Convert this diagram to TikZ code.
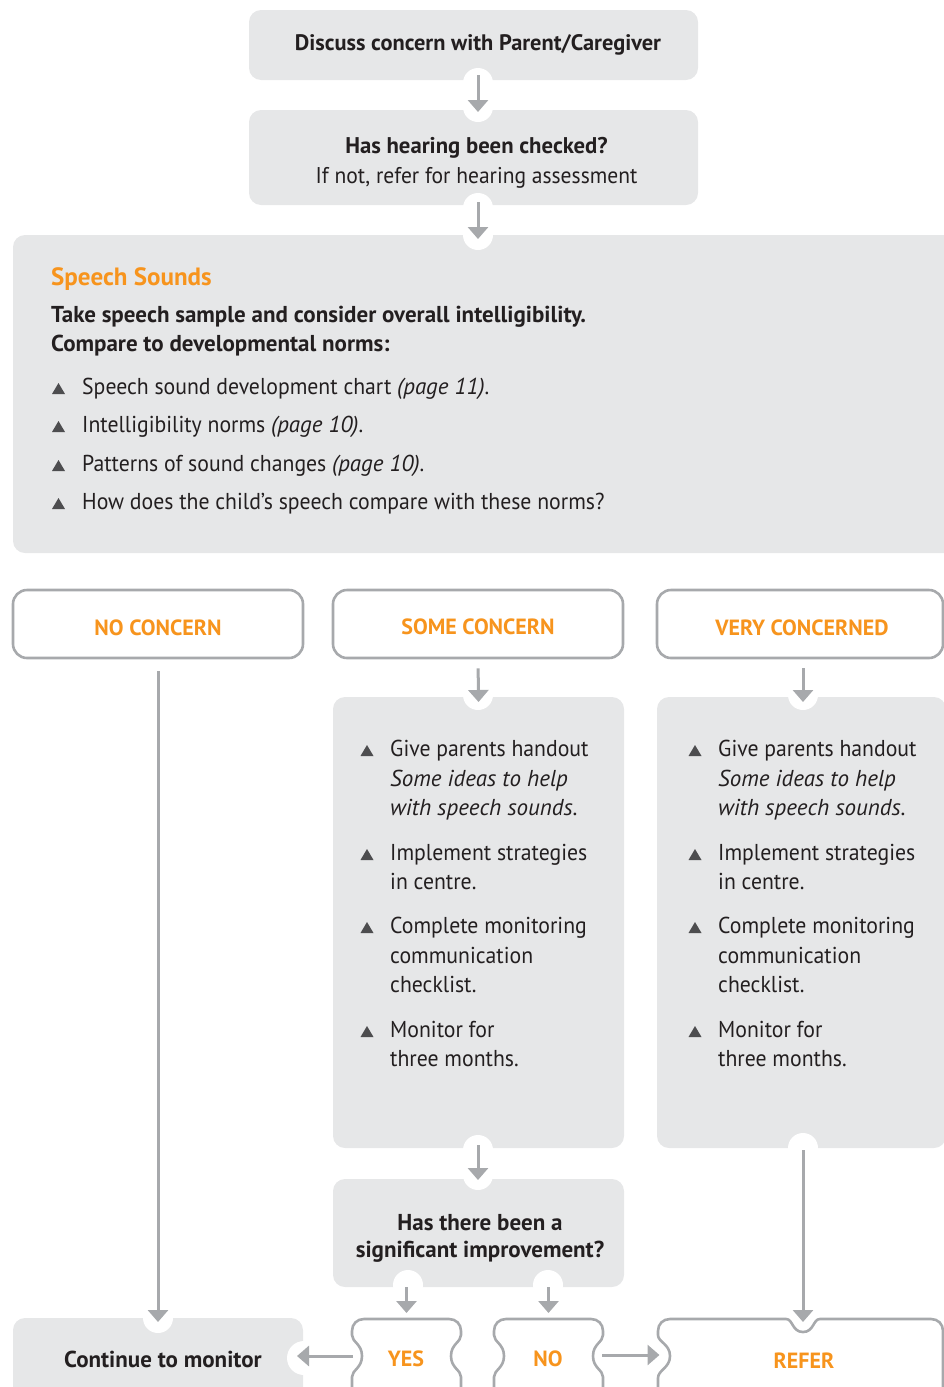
\documentclass[tikz,border=0pt]{standalone}
\usepackage{fontspec}
\setmainfont{PT Sans}[UprightFeatures={FakeStretch=0.945}]
\usetikzlibrary{arrows.meta}
\definecolor{boxgray}{HTML}{E6E7E8}
\definecolor{linegray}{HTML}{A7A9AC}
\definecolor{orng}{HTML}{F7941D}
\definecolor{txt}{HTML}{231F20}
\definecolor{bulc}{HTML}{4D4D4F}
\newcommand\bultri[2]{\fill[bulc] ({#1-6.5},{#2}) -- ({#1+6.5},{#2}) -- ({#1},{#2-11}) -- cycle;}
\newcommand\bline[4]{\node[tx, anchor=base west] (#1) at (#2,#3) {#4};}
\begin{document}
\begin{tikzpicture}[x=1pt,y=-1pt,
  graybox/.style={fill=boxgray, rounded corners=12pt},
  outbox/.style={draw=linegray, line width=2.6pt, rounded corners=14pt, fill=white},
  conn/.style={draw=linegray, line width=3pt, -{Triangle[width=20pt,length=12pt]}},
  notch/.style={fill=white},
  tx/.style={text=txt, inner sep=0pt, font=\fontsize{23}{29}\selectfont},
  bx/.style={text=txt, inner sep=0pt, font=\fontsize{23}{29}\selectfont\bfseries},
  ox/.style={text=orng, inner sep=0pt, font=\fontsize{22}{29}\selectfont\bfseries},
  hid/.style={inner sep=0pt, outer sep=0pt}]
\useasboundingbox (0,0) rectangle (944,1387);
\clip (0,0) rectangle (944,1387);
\coordinate (cx) at (478,0);
\coordinate (rx) at (803,0);
\coordinate (yl) at (0,1356);
\coordinate (nl) at (0,1355);
% gray boxes
\path[graybox] (249,10) rectangle (698,80);
\node[hid, minimum width=449pt, minimum height=70pt] (b1) at (473.5,45) {};
\path[graybox] (249,110) rectangle (698,205);
\node[hid, minimum width=449pt, minimum height=95pt] (b2) at (473.5,157.5) {};
\path[graybox] (13,235) rectangle (970,553);
\node[hid, minimum width=957pt, minimum height=318pt] (b3) at (491.5,394) {};
\path[graybox] (333,697) rectangle (624,1148);
\node[hid, minimum width=291pt, minimum height=451pt] (mb) at (478.5,922.5) {};
\path[graybox] (657,697) rectangle (946,1148);
\node[hid, minimum width=289pt, minimum height=451pt] (rb) at (801.5,922.5) {};
\path[graybox] (333,1179) rectangle (624,1287);
\node[hid, minimum width=291pt, minimum height=108pt] (q) at (478.5,1233) {};
\path[graybox] (13,1318) rectangle (303,1420);
\node[hid, minimum width=290pt, minimum height=70pt] (cm) at (158,1353) {};
% notches
\fill[notch, rounded corners=15pt] (463,68) rectangle (493,122);
\fill[notch, rounded corners=15pt] (463,193) rectangle (493,250);
\fill[notch] (478,695) circle (15);
\fill[notch] (803,695) circle (15);
\fill[notch, rounded corners=15pt] (463,1135) rectangle (493,1190);
\fill[notch] (803,1148) circle (15);
\fill[notch] (408,1285) circle (15);
\fill[notch] (548,1285) circle (15);
\fill[notch] (158,1318) circle (15);
\fill[notch] (304,1358) circle (17);
% outline boxes
\node[outbox, minimum width=290pt, minimum height=68pt] (nc) at (158,624) {};
\node[outbox, minimum width=290pt, minimum height=68pt] (sc) at (478,624) {};
\node[outbox, minimum width=286pt, minimum height=68pt] (vc) at (800,624) {};
% yes / no / refer shapes
\draw[linegray, line width=2.6pt]
  (352,1400) -- (352,1377) .. controls (352,1370) and (362,1368) .. (362,1356)
  .. controls (362,1344) and (352,1342) .. (352,1335) -- (352,1331)
  .. controls (352,1324) and (357,1319) .. (364,1319) -- (449,1319)
  .. controls (456,1319) and (461,1324) .. (461,1331) -- (461,1335)
  .. controls (461,1342) and (451,1344) .. (451,1356)
  .. controls (451,1368) and (461,1370) .. (461,1377) -- (461,1400);
\node[hid, minimum width=109pt, minimum height=70pt] (yes) at (406.5,1354) {};
\draw[linegray, line width=2.6pt]
  (494,1400) -- (494,1377) .. controls (494,1370) and (504,1368) .. (504,1356)
  .. controls (504,1344) and (494,1342) .. (494,1335) -- (494,1331)
  .. controls (494,1324) and (499,1319) .. (506,1319) -- (591,1319)
  .. controls (598,1319) and (603,1324) .. (603,1331) -- (603,1335)
  .. controls (603,1342) and (593,1344) .. (593,1356)
  .. controls (593,1368) and (603,1370) .. (603,1377) -- (603,1400);
\node[hid, minimum width=109pt, minimum height=70pt] (no) at (548.5,1354) {};
\draw[linegray, line width=2.6pt]
  (658,1400) -- (658,1378) .. controls (658,1370) and (670,1368) .. (670,1356)
  .. controls (670,1344) and (658,1342) .. (658,1335) -- (658,1331)
  .. controls (658,1324) and (663,1319) .. (670,1319) -- (786,1319)
  .. controls (793,1319) and (792,1332) .. (803,1332)
  .. controls (814,1332) and (813,1319) .. (820,1319) -- (931,1319)
  .. controls (938,1319) and (943,1324) .. (943,1331) -- (943,1400);
\node[hid, minimum width=285pt, minimum height=70pt] (refer) at (800,1354) {};
% connectors
\draw[conn, shorten <=-5pt, shorten >=-2pt] (b1.south -| cx) -- (b2.north -| cx);
\draw[conn, shorten <=-3pt, shorten >=-4pt] (b2.south -| cx) -- (b3.north -| cx);
\draw[conn, shorten <=9pt, shorten >=-5pt] (sc.south) -- (mb.north);
\draw[conn, shorten <=9pt, shorten >=-5pt] (vc.south -| rx) -- (rb.north -| rx);
\draw[conn, shorten <=12pt, shorten >=-4pt] (nc.south) -- (cm.north);
\draw[conn, shorten <=-3pt, shorten >=-1pt] (mb.south -| cx) -- (q.north -| cx);
\draw[conn, shorten <=2pt, shorten >=-3pt] (rb.south -| rx) -- (refer.north -| rx);
\draw[conn, shorten <=0pt, shorten >=6pt] (q.south -| yes) -- (yes.north);
\draw[conn, shorten <=0pt, shorten >=6pt] (q.south -| no) -- (no.north);
\draw[conn, shorten <=-1pt, shorten >=-6pt] (yes.west |- yl) -- (cm.east |- yl);
\draw[conn, shorten <=-1pt, shorten >=-2pt] (no.east |- nl) -- (refer.west |- nl);
% texts
\node[bx, anchor=base, font=\fontsize{22.4}{29}\selectfont\bfseries] (t1) at (478,50) {Discuss concern with Parent/Caregiver};
\node[bx, anchor=base, font=\fontsize{22.7}{29}\selectfont\bfseries] (t2) at (476.5,153) {Has hearing been checked?};
\node[tx, anchor=base, font=\fontsize{22.8}{29}\selectfont] (t3) at (476.5,183) {If not, refer for hearing assessment};
\node[ox, anchor=base west, font=\fontsize{25}{30}\selectfont\bfseries] (t4) at (51,285) {Speech Sounds};
\node[bx, anchor=base west] (t5) at (51,322) {Take speech sample and consider overall intelligibility.};
\node[bx, anchor=base west] (t6) at (51,351) {Compare to developmental norms:};
\bultri{58.5}{394}\bline{s1}{82}{394}{Speech sound development chart \textit{(page 11)}.}
\bultri{58.5}{432}\bline{s2}{82}{432}{Intelligibility norms \textit{(page 10)}.}
\bultri{58.5}{471}\bline{s3}{82}{471}{Patterns of sound changes \textit{(page 10)}.}
\bultri{58.5}{509}\bline{s4}{82}{509}{How does the child’s speech compare with these norms?}
\node[ox, anchor=base] (t7) at (158,635) {NO CONCERN};
\node[ox, anchor=base] (t8) at (478,634) {SOME CONCERN};
\node[ox, anchor=base] (t9) at (802,635) {VERY CONCERNED};
% middle bullets
\bultri{367}{756}\bline{m1}{390}{756}{Give parents handout}
\bline{m2}{390}{786}{\textit{Some ideas to help}}
\bline{m3}{390}{815}{\textit{with speech sounds.}}
\bultri{367}{860}\bline{m4}{390}{860}{Implement strategies}
\bline{m5}{390}{889}{in centre.}
\bultri{367}{933}\bline{m6}{390}{933}{Complete monitoring}
\bline{m7}{390}{963}{communication}
\bline{m8}{390}{992}{checklist.}
\bultri{367}{1037}\bline{m9}{390}{1037}{Monitor for}
\bline{m10}{390}{1066}{three months.}
% right bullets
\bultri{695}{756}\bline{r1}{718}{756}{Give parents handout}
\bline{r2}{718}{786}{\textit{Some ideas to help}}
\bline{r3}{718}{815}{\textit{with speech sounds.}}
\bultri{695}{860}\bline{r4}{718}{860}{Implement strategies}
\bline{r5}{718}{889}{in centre.}
\bultri{695}{933}\bline{r6}{718}{933}{Complete monitoring}
\bline{r7}{718}{963}{communication}
\bline{r8}{718}{992}{checklist.}
\bultri{695}{1037}\bline{r9}{718}{1037}{Monitor for}
\bline{r10}{718}{1066}{three months.}
\node[bx, anchor=base] (t10) at (480,1230) {Has there been a};
\node[bx, anchor=base] (t11) at (480,1257) {significant improvement?};
\node[bx, anchor=base] (t12) at (163,1367) {Continue to monitor};
\node[ox, anchor=base] (t13) at (406,1366) {YES};
\node[ox, anchor=base] (t14) at (548,1366) {NO};
\node[ox, anchor=base] (t15) at (804,1368) {REFER};
\end{tikzpicture}
\end{document}
